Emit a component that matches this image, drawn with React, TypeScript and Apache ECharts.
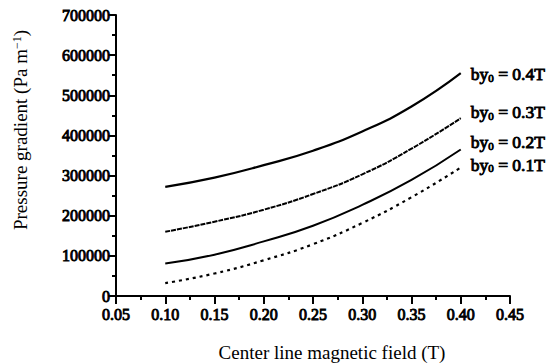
import React, { useEffect, useRef } from "react";
import * as echarts from "echarts";

const xValues = [0.1, 0.15, 0.2, 0.25, 0.3, 0.35, 0.4];
const by04 = [272000, 295000, 326000, 362000, 410000, 472000, 555000];
const by03 = [160000, 185000, 215000, 254000, 303000, 367000, 443000];
const by02 = [81000, 103000, 136000, 175000, 227000, 289000, 365000];
const by01 = [32000, 56000, 89000, 129000, 182000, 246000, 320000];

const seriesLabels = ["0.4T", "0.3T", "0.2T", "0.1T"];
const xTitle = "Center line magnetic field (T)";
const yTitle = "Pressure gradient (Pa m";

const FONT = "Liberation Serif";

export default function App() {
  const ref = useRef<HTMLDivElement>(null);
  useEffect(() => {
    if (!ref.current) return;
    const chart = echarts.init(ref.current, null, { renderer: "svg" });
    const sets = [by04, by03, by02, by01];
    const styles: any[] = [
      { type: "solid", width: 2.2 },
      { type: [5, 1], width: 2 },
      { type: "solid", width: 2 },
      { type: [3, 4], width: 2.2 },
    ];
    const offsets = [
      [0, 1],
      [0, -6],
      [0, -7],
      [0, -3],
    ];
    const bold = { textBorderColor: "#000", textBorderWidth: 0.9 };
    const rich = {
      a: { fontFamily: FONT, fontSize: 17.5, color: "#000", ...bold },
      s: {
        fontFamily: FONT,
        fontSize: 11,
        color: "#000",
        verticalAlign: "bottom",
        ...bold,
      },
    };
    const series = sets.map((vals, i) => ({
      type: "line",
      data: vals.map((v, k) => [xValues[k], v]),
      smooth: true,
      showSymbol: false,
      lineStyle: { color: "#000", ...styles[i] },
      endLabel: {
        show: true,
        distance: 10,
        offset: offsets[i],
        formatter: () => `{a|by}{s|0}{a| = ${seriesLabels[i]}}`,
        rich,
      },
    }));
    chart.setOption({
      animation: false,
      backgroundColor: "#fff",
      grid: { left: 116, right: 47, top: 15, bottom: 68 },
      xAxis: {
        type: "value",
        min: 0.05,
        max: 0.45,
        interval: 0.05,
        axisLine: { lineStyle: { color: "#000", width: 2 } },
        axisTick: { show: true, length: 8, lineStyle: { color: "#000", width: 2 } },
        minorTick: { show: true, splitNumber: 2, length: 4, lineStyle: { color: "#000", width: 2 } },
        splitLine: { show: false },
        axisLabel: {
          color: "#000",
          fontFamily: FONT,
          fontSize: 16,
          lineHeight: 12,
          margin: 12,
          ...bold,
          formatter: (v: number) => v.toFixed(2),
        },
      },
      yAxis: {
        type: "value",
        min: 0,
        max: 700000,
        interval: 100000,
        axisLine: { show: true, lineStyle: { color: "#000", width: 2 } },
        axisTick: { show: true, length: 8, lineStyle: { color: "#000", width: 2 } },
        minorTick: { show: true, splitNumber: 2, length: 4, lineStyle: { color: "#000", width: 2 } },
        splitLine: { show: false },
        axisLabel: {
          color: "#000",
          fontFamily: FONT,
          fontSize: 16,
          lineHeight: 12,
          margin: 6,
          ...bold,
          formatter: (v: number) => String(Math.round(v)),
        },
      },
      graphic: [
        {
          type: "text",
          x: 332,
          y: 352,
          style: {
            text: xTitle,
            fontFamily: FONT,
            fontSize: 19,
            fill: "#000",
            align: "center",
            verticalAlign: "middle",
          },
        },
        {
          type: "text",
          x: 20,
          y: 130,
          rotation: Math.PI / 2,
          style: {
            text: `{a|${yTitle}}{s|−1}{a|)}`,
            align: "center",
            verticalAlign: "middle",
            rich: {
              a: { fontFamily: FONT, fontSize: 19, fill: "#000", color: "#000" },
              s: { fontFamily: FONT, fontSize: 12, fill: "#000", color: "#000", verticalAlign: "top" },
            },
          },
        },
      ],
      series,
    });
    return () => chart.dispose();
  }, []);
  return (
    <div
      ref={ref}
      style={{ position: "fixed", left: 0, top: 0, width: 557, height: 364, background: "#fff" }}
    />
  );
}
